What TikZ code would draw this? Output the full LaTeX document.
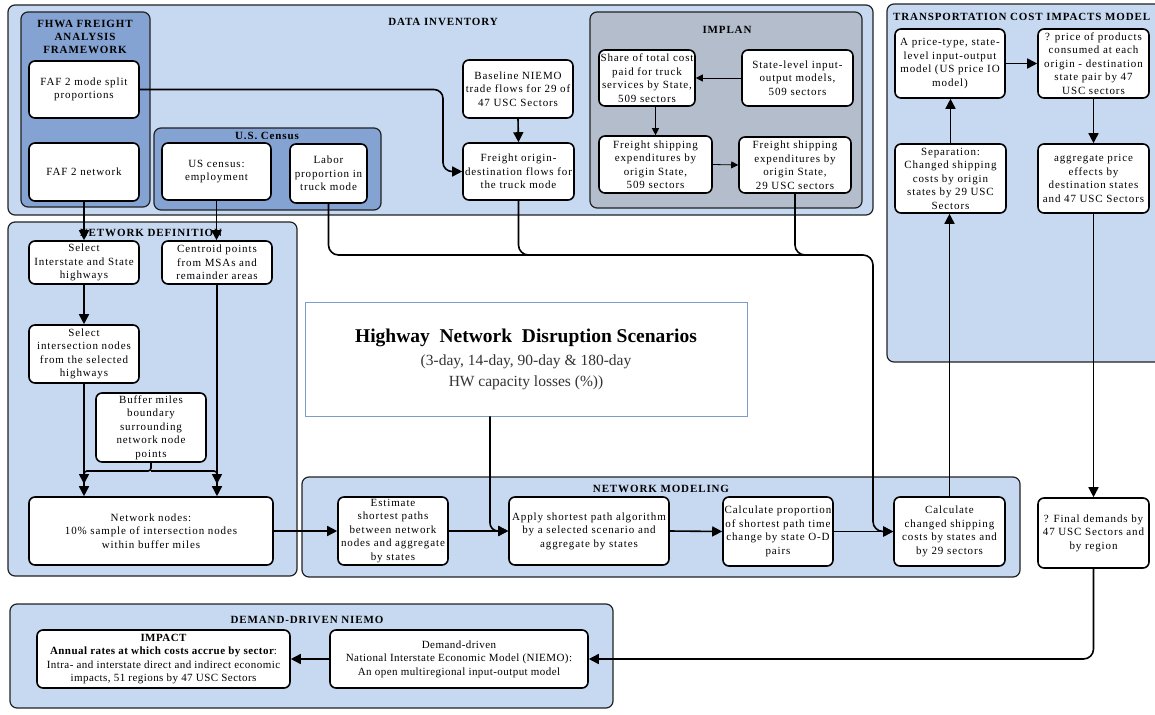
\documentclass[tikz,border=0pt]{standalone}
\usepackage{fontspec}
\setmainfont{Liberation Serif}
\newfontfamily\bxf[LetterSpace=8]{Liberation Serif}
\newfontfamily\bxn[LetterSpace=4]{Liberation Serif}
\usetikzlibrary{arrows.meta}
\definecolor{lb}{HTML}{C6D9F1}
\definecolor{mb}{HTML}{84A2D2}
\definecolor{gb}{HTML}{B3BDCB}
\definecolor{hb}{HTML}{7F9CC8}
\definecolor{ln}{HTML}{222222}
\tikzset{
  cont/.style={draw=ln, line width=1.2pt, rounded corners=7pt},
  bx/.style={draw=black, line width=1.6pt, rounded corners=6pt, fill=white, align=center, inner sep=0pt, font=\bxf\fontsize{11}{13.5}\selectfont},
  ttl/.style={font=\bxf\bfseries\fontsize{11}{13}\selectfont, inner sep=0pt, align=center},
  arr/.style={line width=1.6pt, -{Triangle[length=10pt,width=10pt]}},
  tarr/.style={line width=0.8pt, -{Triangle[length=7pt,width=7pt]}},
  ln/.style={line width=1.6pt}
}
\begin{document}
\begin{tikzpicture}[x=1pt,y=-1pt]
\clip (0,0) rectangle (1155,714);
\fill[white] (0,0) rectangle (1155,714);
% containers
\draw[cont, fill=lb] (8,5) rectangle (873,215);
\draw[cont, fill=mb] (21,12) rectangle (150,207);
\draw[cont, fill=mb] (154,128) rectangle (381,210);
\draw[cont, fill=gb] (590,12) rectangle (862,208);
\draw[cont, fill=lb] (887,4) rectangle (1170,362);
\draw[cont, fill=lb] (8,222) rectangle (297,576);
\draw[cont, fill=lb] (302,477) rectangle (1020,577);
\draw[cont, fill=lb] (10,604) rectangle (613,708);
% titles
\node[ttl] (tdi) at (443,22) {DATA INVENTORY};
\node[ttl] (tfh) at (85,37) {FHWA FREIGHT\\ANALYSIS\\FRAMEWORK};
\node[ttl] (tcen) at (267,136) {U.S. Census};
\node[ttl] (timp) at (727,30) {IMPLAN};
\node[ttl, anchor=west] (ttc) at (893,17) {TRANSPORTATION COST IMPACTS MODEL};
\node[ttl] (tnd) at (151,233) {NETWORK DEFINITION};
\node[ttl] (tnm) at (661,489) {NETWORK MODELING};
\node[ttl] (tdd) at (307,620) {DEMAND-DRIVEN NIEMO};
% boxes
\node[bx, minimum width=110pt, minimum height=57pt] (fafsplit) at (84,89.5) {FAF 2 mode split\\proportions};
\node[bx, minimum width=110pt, minimum height=58pt] (fafnet) at (84,172) {FAF 2 network};
\node[bx, minimum width=109pt, minimum height=57pt] (uscemp) at (216.5,171.5) {US census:\\employment};
\node[bx, minimum width=77pt, minimum height=59pt] (labor) at (328.5,173.5) {Labor\\proportion in\\truck mode};
\node[bx, minimum width=110pt, minimum height=58pt] (baseline) at (518,89) {Baseline NIEMO\\trade flows for 29 of\\47 USC Sectors};
\node[bx, minimum width=111pt, minimum height=57pt] (freightod) at (518.5,171.5) {Freight origin-\\destination flows for\\the truck mode};
\node[bx, minimum width=96pt, minimum height=56pt] (share) at (647,78) {Share of total cost\\paid for truck\\services by State,\\509 sectors};
\node[bx, minimum width=111pt, minimum height=56pt] (statelvl) at (797.5,78) {State-level input-\\output models,\\509 sectors};
\node[bx, minimum width=113pt, minimum height=57pt] (fs509) at (655.5,164.5) {Freight shipping\\expenditures by\\origin State,\\509 sectors};
\node[bx, minimum width=112pt, minimum height=56pt] (fs29) at (795,165) {Freight shipping\\expenditures by\\origin State,\\29 USC sectors};
\node[bx, minimum width=110pt, minimum height=69pt] (pricetype) at (950,63.5) {A price-type, state-\\level input-output\\model (US price IO\\model)};
\node[bx, minimum width=111pt, minimum height=69pt] (pprod) at (1093.5,63.5) {? price of products\\consumed at each\\origin - destination\\state pair by 47\\USC sectors};
\node[bx, minimum width=111pt, minimum height=69pt] (separation) at (950.5,178.5) {Separation:\\Changed shipping\\costs by origin\\states by 29 USC\\Sectors};
\node[bx, minimum width=111pt, minimum height=69pt] (aggprice) at (1093.5,178.5) {aggregate price\\effects by\\destination states\\and 47 USC Sectors};
\node[bx, minimum width=110pt, minimum height=43pt] (selint) at (84,262.5) {Select\\Interstate and State\\highways};
\node[bx, minimum width=110pt, minimum height=43pt] (centroid) at (217,262.5) {Centroid points\\from MSAs and\\remainder areas};
\node[bx, minimum width=110pt, minimum height=58pt] (selnode) at (84,354) {Select\\intersection nodes\\from the selected\\highways};
\node[bx, minimum width=110pt, minimum height=69pt] (buffer) at (151,427.5) {Buffer miles\\boundary\\surrounding\\network node\\points};
\node[bx, minimum width=244pt, minimum height=68pt] (netnodes) at (151,531) {Network nodes:\\10\% sample of intersection nodes\\within buffer miles};
\node[bx, minimum width=110pt, minimum height=68pt] (estimate) at (393,531) {Estimate\\shortest paths\\between network\\nodes and aggregate\\by states};
\node[bx, minimum width=160pt, minimum height=68pt] (apply) at (589,531) {Apply shortest path algorithm\\by a selected scenario and\\aggregate by states};
\node[bx, minimum width=110pt, minimum height=69pt] (calcprop) at (778,531.5) {Calculate proportion\\of shortest path time\\change by state O-D\\pairs};
\node[bx, minimum width=111pt, minimum height=69pt] (calcchg) at (949.5,531.5) {Calculate\\changed shipping\\costs by states and\\by 29 sectors};
\node[bx, minimum width=111pt, minimum height=70pt] (finaldem) at (1093.5,533) {? Final demands by\\47 USC Sectors and\\by region};
\node[bx, font=\bxn\fontsize{11}{13.5}\selectfont, minimum width=253pt, minimum height=58pt] (impact) at (163.5,659) {{\bfseries IMPACT}\\{\bfseries Annual rates at which costs accrue by sector}:\\Intra- and interstate direct and indirect economic\\impacts, 51 regions by 47 USC Sectors};
\node[bx, font=\bxn\fontsize{11}{13.5}\selectfont, minimum width=258pt, minimum height=58pt] (ddinner) at (459,659) {Demand-driven\\National Interstate Economic Model (NIEMO):\\An open multiregional input-output model};
\node[draw=hb, line width=0.8pt, fill=white, minimum width=442pt, minimum height=114pt, align=center, inner sep=0pt, font=\fontsize{15.5}{20.5}\selectfont, text=black!80] (highway) at (526,359) {{\color{black}\bfseries\fontsize{19.5}{22}\selectfont Highway\ \ Network\ \ Disruption Scenarios}\\[3pt](3-day, 14-day, 90-day \& 180-day\\HW capacity losses (\%))};
% connectors
\draw[arr, rounded corners=9pt] (fafsplit.east) -- (443,89.5) |- (freightod.west);
\draw[arr] (baseline.south) -- (freightod.north);
\draw[tarr] (statelvl.west) -- (share.east);
\draw[tarr] (fs509.north |- share.south) -- (fs509.north);
\draw[tarr] (fs509.east) -- (fs29.west);
\draw[arr] (fafnet.south) -- (selint.north);
\draw[arr] (uscemp.south) -- (uscemp.south |- centroid.north);
\draw[arr] (selint.south) -- (selnode.north);
\draw[arr] (selnode.south) -- (selnode.south |- netnodes.north);
\draw[arr] (centroid.south) -- (centroid.south |- netnodes.north);
\coordinate (bl) at (84,484);
\coordinate (br) at (217,484);
\draw[arr, rounded corners=3pt] (buffer.south) -- (151,471) -| (bl);
\draw[arr, rounded corners=3pt] (151,471) -| (br);
\draw[arr] (netnodes.east) -- (estimate.west);
\draw[arr] (estimate.east) -- (apply.west);
\draw[arr] (apply.east) -- (calcprop.west);
\draw[arr] (calcprop.east) -- (calcchg.west);
\draw[arr, rounded corners=8pt] ([xshift=-36pt]highway.south) |- (apply.west);
\coordinate (jn) at (873,255);
\draw[arr, rounded corners=10pt] (labor.south) |- (jn) |- (calcchg.west);
\draw[ln, rounded corners=10pt] (freightod.south) |- (545,255);
\draw[ln, rounded corners=10pt] (fs29.south) |- (820,255);
\draw[arr] (calcchg.north) -- (calcchg.north |- separation.south);
\draw[arr] (separation.north) -- (separation.north |- pricetype.south);
\draw[arr] (pricetype.east) -- (pprod.west);
\draw[arr] (pprod.south) -- (aggprice.north);
\draw[arr] (aggprice.south) -- (finaldem.north);
\draw[arr, rounded corners=10pt] (finaldem.south) |- (ddinner.east);
\draw[arr] (ddinner.west) -- (impact.east);
\end{tikzpicture}
\end{document}
